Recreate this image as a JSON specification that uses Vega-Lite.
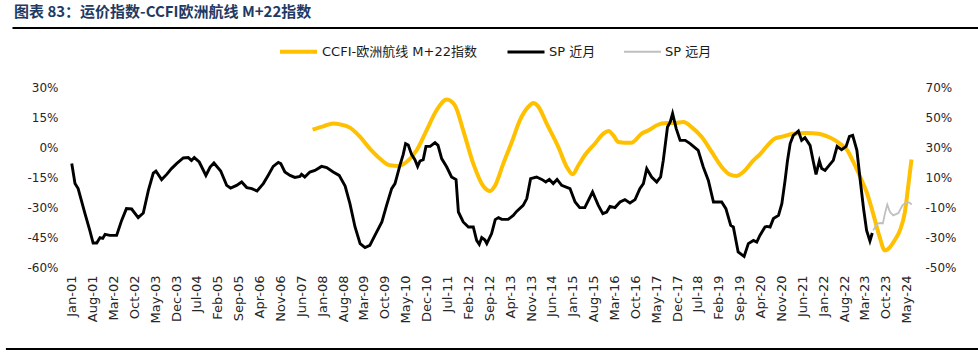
{
  "$schema": "https://vega.github.io/schema/vega-lite/v6.json",
  "width": 850,
  "height": 180,
  "autosize": {"type": "none"},
  "padding": {"left": 65, "top": 87, "right": 63, "bottom": 87},
  "background": "white",
  "title": {
    "text": "图表 83：运价指数-CCFI欧洲航线 M+22指数",
    "anchor": "start",
    "frame": "group",
    "dx": -51,
    "offset": 7,
    "font": "Noto Sans CJK SC",
    "fontSize": 15,
    "fontWeight": "bold",
    "color": "#1F3A64"
  },
  "config": {
    "view": {"stroke": null},
    "axis": {
      "domain": false,
      "ticks": false,
      "grid": false,
      "title": null,
      "labelFont": "DejaVu Sans",
      "labelFontSize": 12,
      "labelColor": "#262626"
    }
  },
  "datasets": {
    "ccfi": [
      {"date": "2007-09-25", "pct": 41.6, "series": "CCFI-欧洲航线 M+22指数"},
      {"date": "2008-01-13", "pct": 43.8, "series": "CCFI-欧洲航线 M+22指数"},
      {"date": "2008-04-22", "pct": 45.6, "series": "CCFI-欧洲航线 M+22指数"},
      {"date": "2008-07-01", "pct": 45.1, "series": "CCFI-欧洲航线 M+22指数"},
      {"date": "2008-10-10", "pct": 42.9, "series": "CCFI-欧洲航线 M+22指数"},
      {"date": "2009-01-22", "pct": 36.7, "series": "CCFI-欧洲航线 M+22指数"},
      {"date": "2009-05-01", "pct": 28.9, "series": "CCFI-欧洲航线 M+22指数"},
      {"date": "2009-08-13", "pct": 22.2, "series": "CCFI-欧洲航线 M+22指数"},
      {"date": "2009-11-22", "pct": 17.8, "series": "CCFI-欧洲航线 M+22指数"},
      {"date": "2010-02-16", "pct": 17.3, "series": "CCFI-欧洲航线 M+22指数"},
      {"date": "2010-05-10", "pct": 20.0, "series": "CCFI-欧洲航线 M+22指数"},
      {"date": "2010-08-22", "pct": 27.8, "series": "CCFI-欧洲航线 M+22指数"},
      {"date": "2010-12-01", "pct": 41.1, "series": "CCFI-欧洲航线 M+22指数"},
      {"date": "2011-03-13", "pct": 54.5, "series": "CCFI-欧洲航线 M+22指数"},
      {"date": "2011-06-25", "pct": 61.6, "series": "CCFI-欧洲航线 M+22指数"},
      {"date": "2011-09-16", "pct": 57.8, "series": "CCFI-欧洲航线 M+22指数"},
      {"date": "2011-12-10", "pct": 41.1, "series": "CCFI-欧洲航线 M+22指数"},
      {"date": "2012-03-22", "pct": 18.9, "series": "CCFI-欧洲航线 M+22指数"},
      {"date": "2012-07-01", "pct": 4.0, "series": "CCFI-欧洲航线 M+22指数"},
      {"date": "2012-09-10", "pct": 0.7, "series": "CCFI-欧洲航线 M+22指数"},
      {"date": "2012-11-01", "pct": 4.5, "series": "CCFI-欧洲航线 M+22指数"},
      {"date": "2013-01-22", "pct": 18.9, "series": "CCFI-欧洲航线 M+22指数"},
      {"date": "2013-04-19", "pct": 33.3, "series": "CCFI-欧洲航线 M+22指数"},
      {"date": "2013-07-10", "pct": 47.8, "series": "CCFI-欧洲航线 M+22指数"},
      {"date": "2013-10-04", "pct": 56.7, "series": "CCFI-欧洲航线 M+22指数"},
      {"date": "2013-11-25", "pct": 59.3, "series": "CCFI-欧洲航线 M+22指数"},
      {"date": "2014-01-13", "pct": 57.1, "series": "CCFI-欧洲航线 M+22指数"},
      {"date": "2014-04-10", "pct": 45.6, "series": "CCFI-欧洲航线 M+22指数"},
      {"date": "2014-08-07", "pct": 30.0, "series": "CCFI-欧洲航线 M+22指数"},
      {"date": "2014-11-01", "pct": 16.7, "series": "CCFI-欧洲航线 M+22指数"},
      {"date": "2015-01-01", "pct": 11.8, "series": "CCFI-欧洲航线 M+22指数"},
      {"date": "2015-02-28", "pct": 17.8, "series": "CCFI-欧洲航线 M+22指数"},
      {"date": "2015-05-04", "pct": 24.5, "series": "CCFI-欧洲航线 M+22指数"},
      {"date": "2015-08-16", "pct": 32.3, "series": "CCFI-欧洲航线 M+22指数"},
      {"date": "2015-11-10", "pct": 38.9, "series": "CCFI-欧洲航线 M+22指数"},
      {"date": "2016-01-01", "pct": 40.7, "series": "CCFI-欧洲航线 M+22指数"},
      {"date": "2016-02-19", "pct": 37.8, "series": "CCFI-欧洲航线 M+22指数"},
      {"date": "2016-04-10", "pct": 33.3, "series": "CCFI-欧洲航线 M+22指数"},
      {"date": "2016-06-16", "pct": 32.8, "series": "CCFI-欧洲航线 M+22指数"},
      {"date": "2016-08-25", "pct": 32.9, "series": "CCFI-欧洲航线 M+22指数"},
      {"date": "2016-12-04", "pct": 38.9, "series": "CCFI-欧洲航线 M+22指数"},
      {"date": "2017-02-13", "pct": 41.1, "series": "CCFI-欧洲航线 M+22指数"},
      {"date": "2017-05-07", "pct": 44.5, "series": "CCFI-欧洲航线 M+22指数"},
      {"date": "2017-08-16", "pct": 46.0, "series": "CCFI-欧洲航线 M+22指数"},
      {"date": "2017-11-10", "pct": 46.0, "series": "CCFI-欧洲航线 M+22指数"},
      {"date": "2018-02-04", "pct": 46.7, "series": "CCFI-欧洲航线 M+22指数"},
      {"date": "2018-04-28", "pct": 43.3, "series": "CCFI-欧洲航线 M+22指数"},
      {"date": "2018-08-10", "pct": 36.7, "series": "CCFI-欧洲航线 M+22指数"},
      {"date": "2018-11-19", "pct": 26.7, "series": "CCFI-欧洲航线 M+22指数"},
      {"date": "2019-03-01", "pct": 16.7, "series": "CCFI-欧洲航线 M+22指数"},
      {"date": "2019-05-25", "pct": 11.6, "series": "CCFI-欧洲航线 M+22指数"},
      {"date": "2019-08-01", "pct": 10.7, "series": "CCFI-欧洲航线 M+22指数"},
      {"date": "2019-10-07", "pct": 13.3, "series": "CCFI-欧洲航线 M+22指数"},
      {"date": "2020-01-19", "pct": 21.1, "series": "CCFI-欧洲航线 M+22指数"},
      {"date": "2020-03-25", "pct": 25.1, "series": "CCFI-欧洲航线 M+22指数"},
      {"date": "2020-06-04", "pct": 30.5, "series": "CCFI-欧洲航线 M+22指数"},
      {"date": "2020-08-25", "pct": 35.6, "series": "CCFI-欧洲航线 M+22指数"},
      {"date": "2020-11-19", "pct": 37.1, "series": "CCFI-欧洲航线 M+22指数"},
      {"date": "2021-03-01", "pct": 38.9, "series": "CCFI-欧洲航线 M+22指数"},
      {"date": "2021-07-16", "pct": 39.3, "series": "CCFI-欧洲航线 M+22指数"},
      {"date": "2021-11-13", "pct": 38.9, "series": "CCFI-欧洲航线 M+22指数"},
      {"date": "2022-03-10", "pct": 36.3, "series": "CCFI-欧洲航线 M+22指数"},
      {"date": "2022-06-19", "pct": 32.3, "series": "CCFI-欧洲航线 M+22指数"},
      {"date": "2022-09-04", "pct": 27.8, "series": "CCFI-欧洲航线 M+22指数"},
      {"date": "2022-11-04", "pct": 20.0, "series": "CCFI-欧洲航线 M+22指数"},
      {"date": "2023-01-13", "pct": 10.0, "series": "CCFI-欧洲航线 M+22指数"},
      {"date": "2023-03-19", "pct": 0.0, "series": "CCFI-欧洲航线 M+22指数"},
      {"date": "2023-05-25", "pct": -14.4, "series": "CCFI-欧洲航线 M+22指数"},
      {"date": "2023-07-25", "pct": -28.9, "series": "CCFI-欧洲航线 M+22指数"},
      {"date": "2023-09-22", "pct": -38.9, "series": "CCFI-欧洲航线 M+22指数"},
      {"date": "2023-11-13", "pct": -36.7, "series": "CCFI-欧洲航线 M+22指数"},
      {"date": "2024-01-04", "pct": -31.7, "series": "CCFI-欧洲航线 M+22指数"},
      {"date": "2024-02-22", "pct": -25.6, "series": "CCFI-欧洲航线 M+22指数"},
      {"date": "2024-04-13", "pct": -13.3, "series": "CCFI-欧洲航线 M+22指数"},
      {"date": "2024-05-16", "pct": 3.3, "series": "CCFI-欧洲航线 M+22指数"},
      {"date": "2024-06-19", "pct": 21.6, "series": "CCFI-欧洲航线 M+22指数"}
    ],
    "sp": [
      {"date": "2001-01-01", "pct": -8.3, "series": "SP 近月"},
      {"date": "2001-02-03", "pct": -18.3, "series": "SP 近月"},
      {"date": "2001-03-07", "pct": -20.8, "series": "SP 近月"},
      {"date": "2001-05-16", "pct": -33.3, "series": "SP 近月"},
      {"date": "2001-07-04", "pct": -41.7, "series": "SP 近月"},
      {"date": "2001-08-07", "pct": -48.0, "series": "SP 近月"},
      {"date": "2001-09-13", "pct": -48.0, "series": "SP 近月"},
      {"date": "2001-10-16", "pct": -45.3, "series": "SP 近月"},
      {"date": "2001-11-13", "pct": -45.7, "series": "SP 近月"},
      {"date": "2001-12-07", "pct": -43.7, "series": "SP 近月"},
      {"date": "2002-01-25", "pct": -44.2, "series": "SP 近月"},
      {"date": "2002-04-04", "pct": -44.2, "series": "SP 近月"},
      {"date": "2002-05-25", "pct": -36.7, "series": "SP 近月"},
      {"date": "2002-07-13", "pct": -30.8, "series": "SP 近月"},
      {"date": "2002-09-04", "pct": -31.0, "series": "SP 近月"},
      {"date": "2002-11-10", "pct": -35.3, "series": "SP 近月"},
      {"date": "2003-01-01", "pct": -33.0, "series": "SP 近月"},
      {"date": "2003-02-22", "pct": -21.7, "series": "SP 近月"},
      {"date": "2003-04-13", "pct": -13.0, "series": "SP 近月"},
      {"date": "2003-05-10", "pct": -12.0, "series": "SP 近月"},
      {"date": "2003-07-07", "pct": -16.3, "series": "SP 近月"},
      {"date": "2003-08-28", "pct": -13.7, "series": "SP 近月"},
      {"date": "2003-10-16", "pct": -10.8, "series": "SP 近月"},
      {"date": "2003-12-07", "pct": -8.3, "series": "SP 近月"},
      {"date": "2004-02-13", "pct": -5.5, "series": "SP 近月"},
      {"date": "2004-04-04", "pct": -5.3, "series": "SP 近月"},
      {"date": "2004-05-07", "pct": -6.7, "series": "SP 近月"},
      {"date": "2004-06-04", "pct": -5.3, "series": "SP 近月"},
      {"date": "2004-07-25", "pct": -7.5, "series": "SP 近月"},
      {"date": "2004-10-01", "pct": -14.2, "series": "SP 近月"},
      {"date": "2004-11-13", "pct": -10.0, "series": "SP 近月"},
      {"date": "2004-12-22", "pct": -8.0, "series": "SP 近月"},
      {"date": "2005-03-01", "pct": -12.0, "series": "SP 近月"},
      {"date": "2005-05-01", "pct": -19.2, "series": "SP 近月"},
      {"date": "2005-06-10", "pct": -20.5, "series": "SP 近月"},
      {"date": "2005-08-10", "pct": -19.2, "series": "SP 近月"},
      {"date": "2005-10-01", "pct": -17.5, "series": "SP 近月"},
      {"date": "2005-11-22", "pct": -20.3, "series": "SP 近月"},
      {"date": "2006-01-13", "pct": -20.8, "series": "SP 近月"},
      {"date": "2006-03-07", "pct": -22.0, "series": "SP 近月"},
      {"date": "2006-05-10", "pct": -18.3, "series": "SP 近月"},
      {"date": "2006-06-28", "pct": -14.2, "series": "SP 近月"},
      {"date": "2006-08-19", "pct": -9.7, "series": "SP 近月"},
      {"date": "2006-10-10", "pct": -7.7, "series": "SP 近月"},
      {"date": "2006-11-04", "pct": -8.3, "series": "SP 近月"},
      {"date": "2006-12-16", "pct": -12.5, "series": "SP 近月"},
      {"date": "2007-02-07", "pct": -14.2, "series": "SP 近月"},
      {"date": "2007-03-28", "pct": -15.2, "series": "SP 近月"},
      {"date": "2007-05-19", "pct": -14.7, "series": "SP 近月"},
      {"date": "2007-06-04", "pct": -13.7, "series": "SP 近月"},
      {"date": "2007-07-07", "pct": -15.0, "series": "SP 近月"},
      {"date": "2007-08-28", "pct": -12.5, "series": "SP 近月"},
      {"date": "2007-10-19", "pct": -11.7, "series": "SP 近月"},
      {"date": "2007-12-25", "pct": -9.7, "series": "SP 近月"},
      {"date": "2008-02-16", "pct": -10.3, "series": "SP 近月"},
      {"date": "2008-04-22", "pct": -12.5, "series": "SP 近月"},
      {"date": "2008-06-22", "pct": -14.2, "series": "SP 近月"},
      {"date": "2008-08-22", "pct": -19.5, "series": "SP 近月"},
      {"date": "2008-10-10", "pct": -28.3, "series": "SP 近月"},
      {"date": "2008-12-01", "pct": -40.0, "series": "SP 近月"},
      {"date": "2009-01-22", "pct": -48.3, "series": "SP 近月"},
      {"date": "2009-03-13", "pct": -50.3, "series": "SP 近月"},
      {"date": "2009-05-01", "pct": -49.2, "series": "SP 近月"},
      {"date": "2009-06-22", "pct": -44.2, "series": "SP 近月"},
      {"date": "2009-09-01", "pct": -37.5, "series": "SP 近月"},
      {"date": "2009-10-19", "pct": -29.2, "series": "SP 近月"},
      {"date": "2009-12-10", "pct": -20.8, "series": "SP 近月"},
      {"date": "2010-01-13", "pct": -18.3, "series": "SP 近月"},
      {"date": "2010-03-04", "pct": -9.2, "series": "SP 近月"},
      {"date": "2010-04-07", "pct": -3.7, "series": "SP 近月"},
      {"date": "2010-05-01", "pct": 1.7, "series": "SP 近月"},
      {"date": "2010-05-28", "pct": 1.0, "series": "SP 近月"},
      {"date": "2010-07-01", "pct": -3.7, "series": "SP 近月"},
      {"date": "2010-08-04", "pct": -6.3, "series": "SP 近月"},
      {"date": "2010-09-01", "pct": -9.7, "series": "SP 近月"},
      {"date": "2010-09-25", "pct": -7.0, "series": "SP 近月"},
      {"date": "2010-10-28", "pct": -6.3, "series": "SP 近月"},
      {"date": "2010-11-25", "pct": 0.3, "series": "SP 近月"},
      {"date": "2011-01-07", "pct": 0.3, "series": "SP 近月"},
      {"date": "2011-02-25", "pct": 2.2, "series": "SP 近月"},
      {"date": "2011-03-28", "pct": 0.8, "series": "SP 近月"},
      {"date": "2011-05-04", "pct": -5.8, "series": "SP 近月"},
      {"date": "2011-06-25", "pct": -10.0, "series": "SP 近月"},
      {"date": "2011-08-13", "pct": -15.0, "series": "SP 近月"},
      {"date": "2011-09-28", "pct": -16.3, "series": "SP 近月"},
      {"date": "2011-10-22", "pct": -32.5, "series": "SP 近月"},
      {"date": "2011-12-10", "pct": -37.5, "series": "SP 近月"},
      {"date": "2012-02-01", "pct": -40.0, "series": "SP 近月"},
      {"date": "2012-03-22", "pct": -40.0, "series": "SP 近月"},
      {"date": "2012-04-25", "pct": -46.7, "series": "SP 近月"},
      {"date": "2012-05-22", "pct": -48.7, "series": "SP 近月"},
      {"date": "2012-06-16", "pct": -45.3, "series": "SP 近月"},
      {"date": "2012-07-19", "pct": -46.5, "series": "SP 近月"},
      {"date": "2012-08-07", "pct": -48.3, "series": "SP 近月"},
      {"date": "2012-09-25", "pct": -43.3, "series": "SP 近月"},
      {"date": "2012-11-01", "pct": -36.3, "series": "SP 近月"},
      {"date": "2012-12-04", "pct": -35.3, "series": "SP 近月"},
      {"date": "2013-01-07", "pct": -36.2, "series": "SP 近月"},
      {"date": "2013-03-13", "pct": -36.2, "series": "SP 近月"},
      {"date": "2013-05-04", "pct": -34.2, "series": "SP 近月"},
      {"date": "2013-06-07", "pct": -32.2, "series": "SP 近月"},
      {"date": "2013-08-13", "pct": -29.2, "series": "SP 近月"},
      {"date": "2013-09-19", "pct": -25.8, "series": "SP 近月"},
      {"date": "2013-10-28", "pct": -15.8, "series": "SP 近月"},
      {"date": "2013-12-28", "pct": -15.0, "series": "SP 近月"},
      {"date": "2014-02-19", "pct": -16.2, "series": "SP 近月"},
      {"date": "2014-04-01", "pct": -17.5, "series": "SP 近月"},
      {"date": "2014-05-07", "pct": -16.2, "series": "SP 近月"},
      {"date": "2014-06-16", "pct": -18.3, "series": "SP 近月"},
      {"date": "2014-07-25", "pct": -16.2, "series": "SP 近月"},
      {"date": "2014-09-10", "pct": -19.2, "series": "SP 近月"},
      {"date": "2014-12-04", "pct": -20.8, "series": "SP 近月"},
      {"date": "2015-01-25", "pct": -27.5, "series": "SP 近月"},
      {"date": "2015-03-13", "pct": -30.3, "series": "SP 近月"},
      {"date": "2015-05-04", "pct": -30.3, "series": "SP 近月"},
      {"date": "2015-07-22", "pct": -22.5, "series": "SP 近月"},
      {"date": "2015-09-19", "pct": -29.2, "series": "SP 近月"},
      {"date": "2015-11-04", "pct": -33.3, "series": "SP 近月"},
      {"date": "2015-12-13", "pct": -32.5, "series": "SP 近月"},
      {"date": "2016-01-16", "pct": -29.7, "series": "SP 近月"},
      {"date": "2016-03-07", "pct": -30.3, "series": "SP 近月"},
      {"date": "2016-04-28", "pct": -27.5, "series": "SP 近月"},
      {"date": "2016-06-16", "pct": -26.3, "series": "SP 近月"},
      {"date": "2016-08-07", "pct": -28.0, "series": "SP 近月"},
      {"date": "2016-09-28", "pct": -26.3, "series": "SP 近月"},
      {"date": "2016-11-16", "pct": -20.8, "series": "SP 近月"},
      {"date": "2016-12-22", "pct": -18.3, "series": "SP 近月"},
      {"date": "2017-01-25", "pct": -10.8, "series": "SP 近月"},
      {"date": "2017-03-16", "pct": -15.0, "series": "SP 近月"},
      {"date": "2017-05-07", "pct": -17.5, "series": "SP 近月"},
      {"date": "2017-06-16", "pct": -15.0, "series": "SP 近月"},
      {"date": "2017-07-13", "pct": -6.7, "series": "SP 近月"},
      {"date": "2017-08-25", "pct": 10.0, "series": "SP 近月"},
      {"date": "2017-09-22", "pct": 12.5, "series": "SP 近月"},
      {"date": "2017-10-16", "pct": 16.7, "series": "SP 近月"},
      {"date": "2017-11-22", "pct": 9.2, "series": "SP 近月"},
      {"date": "2018-01-01", "pct": 3.3, "series": "SP 近月"},
      {"date": "2018-02-22", "pct": 3.3, "series": "SP 近月"},
      {"date": "2018-04-13", "pct": 1.7, "series": "SP 近月"},
      {"date": "2018-07-04", "pct": -1.7, "series": "SP 近月"},
      {"date": "2018-08-25", "pct": -10.0, "series": "SP 近月"},
      {"date": "2018-10-16", "pct": -16.7, "series": "SP 近月"},
      {"date": "2018-12-07", "pct": -27.5, "series": "SP 近月"},
      {"date": "2019-01-10", "pct": -27.5, "series": "SP 近月"},
      {"date": "2019-03-01", "pct": -27.5, "series": "SP 近月"},
      {"date": "2019-04-13", "pct": -30.8, "series": "SP 近月"},
      {"date": "2019-06-01", "pct": -39.2, "series": "SP 近月"},
      {"date": "2019-06-28", "pct": -40.0, "series": "SP 近月"},
      {"date": "2019-08-16", "pct": -52.5, "series": "SP 近月"},
      {"date": "2019-10-16", "pct": -54.7, "series": "SP 近月"},
      {"date": "2019-11-28", "pct": -48.3, "series": "SP 近月"},
      {"date": "2020-01-19", "pct": -46.7, "series": "SP 近月"},
      {"date": "2020-02-22", "pct": -47.5, "series": "SP 近月"},
      {"date": "2020-03-25", "pct": -44.2, "series": "SP 近月"},
      {"date": "2020-05-16", "pct": -40.0, "series": "SP 近月"},
      {"date": "2020-06-04", "pct": -39.7, "series": "SP 近月"},
      {"date": "2020-07-07", "pct": -40.0, "series": "SP 近月"},
      {"date": "2020-08-10", "pct": -35.8, "series": "SP 近月"},
      {"date": "2020-10-01", "pct": -34.2, "series": "SP 近月"},
      {"date": "2020-11-04", "pct": -28.3, "series": "SP 近月"},
      {"date": "2020-12-07", "pct": -16.7, "series": "SP 近月"},
      {"date": "2021-01-01", "pct": -6.7, "series": "SP 近月"},
      {"date": "2021-01-28", "pct": 1.7, "series": "SP 近月"},
      {"date": "2021-03-01", "pct": 5.8, "series": "SP 近月"},
      {"date": "2021-04-04", "pct": 7.2, "series": "SP 近月"},
      {"date": "2021-04-22", "pct": 8.0, "series": "SP 近月"},
      {"date": "2021-05-25", "pct": 3.3, "series": "SP 近月"},
      {"date": "2021-06-28", "pct": 4.7, "series": "SP 近月"},
      {"date": "2021-08-19", "pct": 0.8, "series": "SP 近月"},
      {"date": "2021-09-22", "pct": -7.5, "series": "SP 近月"},
      {"date": "2021-10-19", "pct": -13.7, "series": "SP 近月"},
      {"date": "2021-11-22", "pct": -7.0, "series": "SP 近月"},
      {"date": "2021-12-16", "pct": -10.8, "series": "SP 近月"},
      {"date": "2022-01-19", "pct": -11.7, "series": "SP 近月"},
      {"date": "2022-03-10", "pct": -8.7, "series": "SP 近月"},
      {"date": "2022-04-13", "pct": -6.7, "series": "SP 近月"},
      {"date": "2022-05-22", "pct": 0.3, "series": "SP 近月"},
      {"date": "2022-07-07", "pct": -1.3, "series": "SP 近月"},
      {"date": "2022-08-22", "pct": 0.3, "series": "SP 近月"},
      {"date": "2022-09-25", "pct": 5.3, "series": "SP 近月"},
      {"date": "2022-10-28", "pct": 5.8, "series": "SP 近月"},
      {"date": "2022-12-10", "pct": -1.7, "series": "SP 近月"},
      {"date": "2023-01-13", "pct": -16.7, "series": "SP 近月"},
      {"date": "2023-02-16", "pct": -30.8, "series": "SP 近月"},
      {"date": "2023-03-19", "pct": -41.7, "series": "SP 近月"},
      {"date": "2023-04-22", "pct": -47.0, "series": "SP 近月"},
      {"date": "2023-05-16", "pct": -43.0, "series": "SP 近月"},
      {"date": "2023-05-25", "pct": -41.7, "series": "SP 远月"},
      {"date": "2023-07-07", "pct": -38.3, "series": "SP 远月"},
      {"date": "2023-08-10", "pct": -38.0, "series": "SP 远月"},
      {"date": "2023-09-01", "pct": -38.2, "series": "SP 远月"},
      {"date": "2023-09-22", "pct": -33.3, "series": "SP 远月"},
      {"date": "2023-10-16", "pct": -28.8, "series": "SP 远月"},
      {"date": "2023-11-13", "pct": -32.5, "series": "SP 远月"},
      {"date": "2023-12-16", "pct": -34.2, "series": "SP 远月"},
      {"date": "2024-02-07", "pct": -33.0, "series": "SP 远月"},
      {"date": "2024-03-19", "pct": -29.2, "series": "SP 远月"},
      {"date": "2024-05-01", "pct": -27.5, "series": "SP 远月"},
      {"date": "2024-05-28", "pct": -27.8, "series": "SP 远月"},
      {"date": "2024-06-22", "pct": -28.7, "series": "SP 远月"}
    ],
    "topframe": [
      {"start": 926035200000, "end": 1782864000000, "level": 109.3, "edge": "top"}
    ],
    "bottomframe": [
      {"start": 920246400000, "end": 1782864000000, "level": -101, "edge": "bottom"}
    ]
  },
  "encoding": {
    "x": {
      "field": "date",
      "type": "temporal",
      "scale": {
        "type": "utc",
        "domain": [
          {"year": 2000, "month": 10, "date": 24, "utc": true},
          {"year": 2024, "month": 7, "date": 25, "utc": true}
        ]
      },
      "axis": {
        "format": "%b-%y",
        "labelAngle": 270,
        "labelFontSize": 13,
        "labelPadding": 8,
        "labelOverlap": false,
        "labelFlush": false,
        "values": [
          {"year": 2001, "month": 1, "date": 1, "utc": true},
          {"year": 2001, "month": 8, "date": 1, "utc": true},
          {"year": 2002, "month": 3, "date": 1, "utc": true},
          {"year": 2002, "month": 10, "date": 1, "utc": true},
          {"year": 2003, "month": 5, "date": 1, "utc": true},
          {"year": 2003, "month": 12, "date": 1, "utc": true},
          {"year": 2004, "month": 7, "date": 1, "utc": true},
          {"year": 2005, "month": 2, "date": 1, "utc": true},
          {"year": 2005, "month": 9, "date": 1, "utc": true},
          {"year": 2006, "month": 4, "date": 1, "utc": true},
          {"year": 2006, "month": 11, "date": 1, "utc": true},
          {"year": 2007, "month": 6, "date": 1, "utc": true},
          {"year": 2008, "month": 1, "date": 1, "utc": true},
          {"year": 2008, "month": 8, "date": 1, "utc": true},
          {"year": 2009, "month": 3, "date": 1, "utc": true},
          {"year": 2009, "month": 10, "date": 1, "utc": true},
          {"year": 2010, "month": 5, "date": 1, "utc": true},
          {"year": 2010, "month": 12, "date": 1, "utc": true},
          {"year": 2011, "month": 7, "date": 1, "utc": true},
          {"year": 2012, "month": 2, "date": 1, "utc": true},
          {"year": 2012, "month": 9, "date": 1, "utc": true},
          {"year": 2013, "month": 4, "date": 1, "utc": true},
          {"year": 2013, "month": 11, "date": 1, "utc": true},
          {"year": 2014, "month": 6, "date": 1, "utc": true},
          {"year": 2015, "month": 1, "date": 1, "utc": true},
          {"year": 2015, "month": 8, "date": 1, "utc": true},
          {"year": 2016, "month": 3, "date": 1, "utc": true},
          {"year": 2016, "month": 10, "date": 1, "utc": true},
          {"year": 2017, "month": 5, "date": 1, "utc": true},
          {"year": 2017, "month": 12, "date": 1, "utc": true},
          {"year": 2018, "month": 7, "date": 1, "utc": true},
          {"year": 2019, "month": 2, "date": 1, "utc": true},
          {"year": 2019, "month": 9, "date": 1, "utc": true},
          {"year": 2020, "month": 4, "date": 1, "utc": true},
          {"year": 2020, "month": 11, "date": 1, "utc": true},
          {"year": 2021, "month": 6, "date": 1, "utc": true},
          {"year": 2022, "month": 1, "date": 1, "utc": true},
          {"year": 2022, "month": 8, "date": 1, "utc": true},
          {"year": 2023, "month": 3, "date": 1, "utc": true},
          {"year": 2023, "month": 10, "date": 1, "utc": true},
          {"year": 2024, "month": 5, "date": 1, "utc": true}
        ]
      }
    },
    "color": {
      "field": "series",
      "type": "nominal",
      "scale": {
        "domain": ["CCFI-欧洲航线 M+22指数", "SP 近月", "SP 远月"],
        "range": ["#FFC000", "#000000", "#BFBFBF"]
      },
      "legend": {
        "orient": "none",
        "legendX": 213,
        "legendY": -56,
        "direction": "horizontal",
        "title": null,
        "symbolType": "stroke",
        "symbolSize": 1369,
        "columnPadding": 24,
        "labelOffset": 3,
        "labelFont": "DejaVu Sans, Noto Sans CJK SC",
        "labelFontSize": 13,
        "labelColor": "#1a1a1a",
        "labelLimit": 300
      }
    },
    "strokeWidth": {
      "field": "series",
      "type": "nominal",
      "scale": {
        "domain": ["CCFI-欧洲航线 M+22指数", "SP 近月", "SP 远月"],
        "range": [4, 1.8, 1.6]
      },
      "legend": {
        "orient": "none",
        "legendX": 213,
        "legendY": -56,
        "direction": "horizontal",
        "title": null,
        "symbolType": "stroke",
        "symbolSize": 1369,
        "columnPadding": 24,
        "labelOffset": 3,
        "labelFont": "DejaVu Sans, Noto Sans CJK SC",
        "labelFontSize": 13,
        "labelColor": "#1a1a1a",
        "labelLimit": 300
      }
    }
  },
  "layer": [
    {
      "encoding": {
        "y": {
          "field": "pct",
          "type": "quantitative",
          "scale": {"domain": [-50, 70], "nice": false, "zero": false},
          "axis": {
            "orient": "right",
            "values": [-50, -30, -10, 10, 30, 50, 70],
            "labelExpr": "datum.value + '%'",
            "labelPadding": 10
          }
        }
      },
      "layer": [
        {
          "data": {"name": "ccfi"},
          "mark": {"type": "line", "interpolate": "monotone"}
        },
        {
          "data": {"name": "topframe"},
          "mark": {"type": "rule", "color": "#000000", "clip": false},
          "encoding": {
            "x": {"field": "start", "type": "temporal"},
            "x2": {"field": "end"},
            "y": {"field": "level", "type": "quantitative"},
            "color": {"value": "#000000"},
            "strokeWidth": {"value": 2}
          }
        }
      ]
    },
    {
      "encoding": {
        "y": {
          "field": "pct",
          "type": "quantitative",
          "scale": {"domain": [-60, 30], "nice": false, "zero": false},
          "axis": {
            "orient": "left",
            "values": [-60, -45, -30, -15, 0, 15, 30],
            "labelExpr": "datum.value + '%'",
            "labelPadding": 7
          }
        }
      },
      "layer": [
        {
          "data": {"name": "sp"},
          "mark": {"type": "line"}
        },
        {
          "data": {"name": "bottomframe"},
          "mark": {"type": "rule", "color": "#000000", "clip": false},
          "encoding": {
            "x": {"field": "start", "type": "temporal"},
            "x2": {"field": "end"},
            "y": {"field": "level", "type": "quantitative"},
            "color": {"value": "#000000"},
            "strokeWidth": {"value": 2.2}
          }
        }
      ]
    }
  ],
  "resolve": {"scale": {"y": "independent"}}
}
